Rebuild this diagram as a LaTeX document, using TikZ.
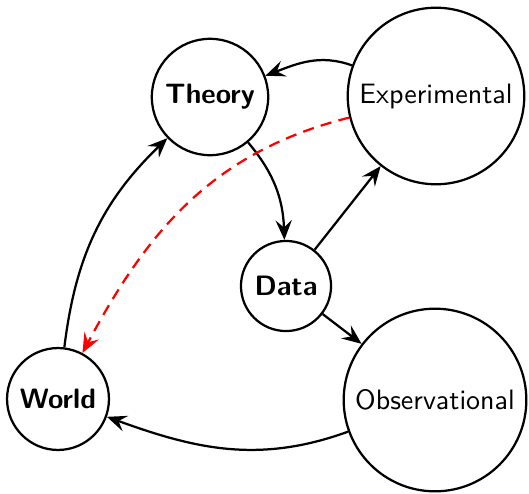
\documentclass[tikz,border=0pt]{standalone}
\usetikzlibrary{arrows.meta}
\begin{document}
\begin{tikzpicture}[x=0.357pt,y=-0.357pt,
  every node/.style={font=\sffamily},
  vert/.style={circle,draw,thick},
  conn/.style={thick,-{Stealth[length=7pt,width=5.8pt,inset=2.6pt]}},
  redconn/.style={conn,red,dash pattern=on 4pt off 2.6pt}]
\useasboundingbox (0,0) rectangle (529,493);
\node[vert] (theory) at (210,97) {\bfseries Theory};
\node[vert] (exp) at (436,96) {Experimental};
\node[vert] (data) at (286,286) {\bfseries Data};
\node[vert] (obs) at (435,400) {Observational};
\node[vert] (world) at (58,399) {\bfseries World};
\draw[conn] (exp) to[out=160,in=21] (theory);
\draw[conn] (theory) to[out=-50,in=92] (data);
\draw[conn] (data) -- (exp);
\draw[conn] (data) -- (obs);
\draw[conn] (obs) to[out=200,in=-20] (world);
\draw[conn] (world) to[out=83,in=224] (theory);
\draw[redconn] (exp) to[out=194,in=62] (world);
\end{tikzpicture}
\end{document}
